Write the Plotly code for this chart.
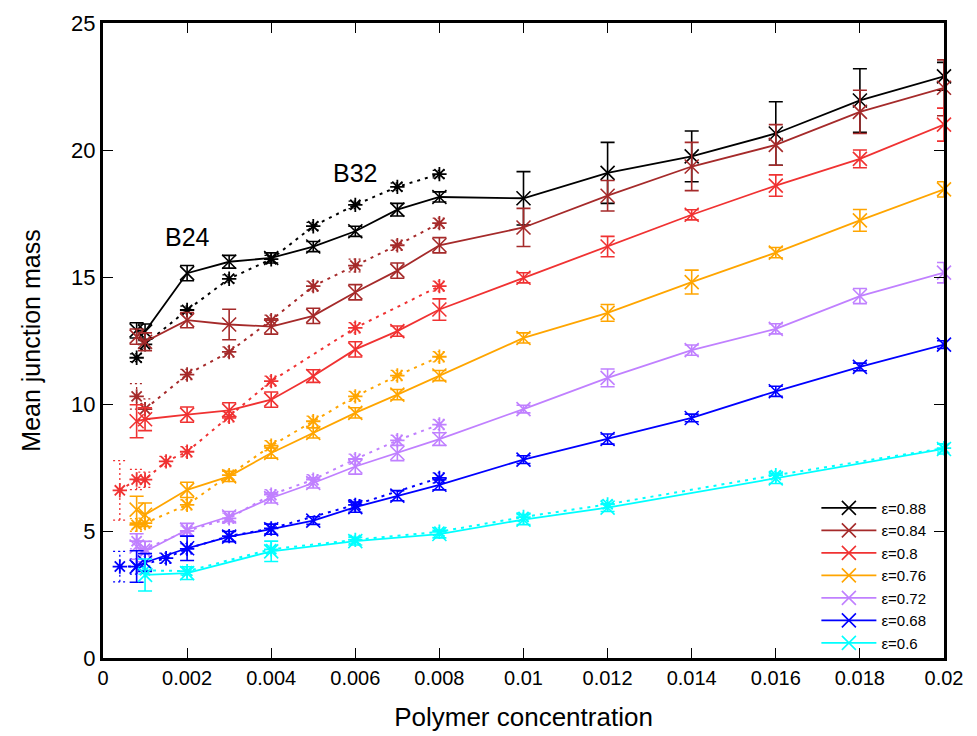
import plotly.graph_objects as go

# ---------------- data ----------------
x_solid = [0.0008, 0.001, 0.002, 0.003, 0.004, 0.005, 0.006, 0.007, 0.008,
           0.01, 0.012, 0.014, 0.016, 0.018, 0.02]

y_088 = [12.9, 12.85, 15.15, 15.6, 15.75, 16.2, 16.8, 17.65, 18.15, 18.1, 19.1, 19.75, 20.65, 21.95, 22.9]
e_088 = [0.3, 0.3, 0.3, 0.25, 0.2, 0.2, 0.2, 0.25, 0.2, 1.05, 1.2, 1.0, 1.25, 1.25, 0.55]
y_084 = [12.65, 12.45, 13.3, 13.13, 13.05, 13.47, 14.4, 15.25, 16.25, 16.95, 18.2, 19.35, 20.2, 21.5, 22.45]
e_084 = [0.3, 0.35, 0.3, 0.6, 0.3, 0.3, 0.3, 0.3, 0.3, 0.75, 0.6, 0.95, 0.8, 0.85, 1.1]
y_080 = [9.32, 9.4, 9.58, 9.75, 10.17, 11.1, 12.15, 12.87, 13.72, 14.97, 16.2, 17.45, 18.6, 19.65, 21.0]
e_080 = [0.65, 0.45, 0.3, 0.3, 0.3, 0.25, 0.3, 0.2, 0.42, 0.2, 0.4, 0.2, 0.42, 0.35, 0.65]
y_076 = [5.84, 5.64, 6.62, 7.15, 8.07, 8.86, 9.65, 10.37, 11.12, 12.6, 13.59, 14.8, 15.96, 17.23, 18.45]
e_076 = [0.53, 0.46, 0.3, 0.2, 0.2, 0.2, 0.2, 0.2, 0.2, 0.2, 0.33, 0.47, 0.2, 0.43, 0.3]
y_072 = [4.39, 4.19, 5.05, 5.57, 6.3, 6.89, 7.54, 8.07, 8.62, 9.8, 11.03, 12.12, 12.96, 14.25, 15.17]
e_072 = [0.5, 0.4, 0.25, 0.2, 0.2, 0.2, 0.3, 0.3, 0.25, 0.15, 0.35, 0.2, 0.2, 0.3, 0.4]
y_068 = [3.6, 3.76, 4.32, 4.78, 5.07, 5.41, 5.94, 6.39, 6.82, 7.81, 8.62, 9.45, 10.5, 11.46, 12.34]
e_068 = [0.62, 0.35, 0.48, 0.2, 0.2, 0.15, 0.2, 0.2, 0.2, 0.15, 0.2, 0.15, 0.2, 0.15, 0.15]

x_060 = [0.001, 0.002, 0.004, 0.006, 0.008, 0.01, 0.012, 0.016, 0.02]
y_060 = [3.27, 3.34, 4.2, 4.6, 4.88, 5.45, 5.92, 7.07, 8.23]
e_060 = [0.63, 0.25, 0.4, 0.15, 0.15, 0.2, 0.15, 0.2, 0.2]

# dotted (second system) series
xd_088 = [0.0008, 0.001, 0.002, 0.003, 0.004, 0.005, 0.006, 0.007, 0.008]
yd_088 = [11.82, 12.35, 13.7, 14.93, 15.7, 17.0, 17.84, 18.55, 19.05]
ed_088 = [0.15, 0.15, 0.15, 0.15, 0.15, 0.15, 0.15, 0.15, 0.15]
xd_084 = [0.0008, 0.001, 0.002, 0.003, 0.004, 0.005, 0.006, 0.007, 0.008]
yd_084 = [10.3, 9.8, 11.16, 12.05, 13.3, 14.64, 15.45, 16.25, 17.12]
ed_084 = [0.5, 0.4, 0.2, 0.2, 0.2, 0.2, 0.25, 0.2, 0.2]
xd_080 = [0.0004, 0.0008, 0.001, 0.0015, 0.002, 0.003, 0.004, 0.006, 0.008]
yd_080 = [6.6, 7.03, 7.02, 7.74, 8.12, 9.5, 10.9, 13.0, 14.64]
ed_080 = [1.17, 0.4, 0.3, 0.2, 0.2, 0.2, 0.2, 0.2, 0.2]
xd_076 = [0.0008, 0.001, 0.002, 0.003, 0.004, 0.005, 0.006, 0.007, 0.008]
yd_076 = [5.24, 5.31, 6.03, 7.2, 8.36, 9.32, 10.3, 11.12, 11.86]
ed_076 = [0.25, 0.2, 0.2, 0.2, 0.2, 0.2, 0.2, 0.2, 0.2]
xd_072 = [0.0008, 0.001, 0.002, 0.003, 0.004, 0.005, 0.006, 0.007, 0.008]
yd_072 = [4.6, 4.3, 5.0, 5.5, 6.43, 7.02, 7.83, 8.57, 9.19]
ed_072 = [0.3, 0.3, 0.2, 0.2, 0.2, 0.2, 0.2, 0.2, 0.2]
xd_068 = [0.0004, 0.0008, 0.0015, 0.002, 0.003, 0.004, 0.006, 0.008]
yd_068 = [3.6, 3.6, 3.93, 4.3, 4.8, 5.1, 6.03, 7.09]
ed_068 = [0.6, 0.3, 0.2, 0.2, 0.2, 0.2, 0.2, 0.2]
xd_060 = [0.001, 0.002, 0.004, 0.006, 0.008, 0.01, 0.012, 0.016, 0.02]
yd_060 = [3.45, 3.42, 4.28, 4.65, 4.97, 5.55, 6.05, 7.2, 8.26]
ed_060 = [0.15, 0.15, 0.15, 0.15, 0.15, 0.15, 0.15, 0.15, 0.15]

labels = ["ε=0.88", "ε=0.84", "ε=0.8", "ε=0.76", "ε=0.72", "ε=0.68", "ε=0.6"]
colors = ["#000000", "#a52a2a", "#f03232", "#ffa500", "#c080ff", "#0000ff", "#00ffff"]

x_ticks = [0, 0.002, 0.004, 0.006, 0.008, 0.01, 0.012, 0.014, 0.016, 0.018, 0.02]
x_ticktext = ["0", "0.002", "0.004", "0.006", "0.008", "0.01", "0.012", "0.014", "0.016", "0.018", "0.02"]
y_ticks = [0, 5, 10, 15, 20, 25]

solid = [(x_solid, y_088, e_088), (x_solid, y_084, e_084), (x_solid, y_080, e_080),
         (x_solid, y_076, e_076), (x_solid, y_072, e_072), (x_solid, y_068, e_068),
         (x_060, y_060, e_060)]
dotted = [(xd_088, yd_088, ed_088), (xd_084, yd_084, ed_084), (xd_080, yd_080, ed_080),
          (xd_076, yd_076, ed_076), (xd_072, yd_072, ed_072), (xd_068, yd_068, ed_068),
          (xd_060, yd_060, ed_060)]

CAP = 0.00016  # half width of dashed error-bar caps (x units)

fig = go.Figure()

# dotted series (with dashed error bars)
for (xs, ys, es), c in zip(dotted, colors):
    ex, ey = [], []
    for x, y, e in zip(xs, ys, es):
        ex += [x, x, None, x - CAP, x + CAP, None, x - CAP, x + CAP, None]
        ey += [y - e, y + e, None, y - e, y - e, None, y + e, y + e, None]
    fig.add_trace(go.Scatter(x=ex, y=ey, mode="lines", showlegend=False,
                             line=dict(color=c, width=1.3, dash="2px,3px"),
                             hoverinfo="skip", cliponaxis=False))
    fig.add_trace(go.Scatter(x=xs, y=ys, mode="lines+markers", showlegend=False,
                             line=dict(color=c, width=2, dash="3px,5px"),
                             marker=dict(symbol="asterisk-open", size=12,
                                         line=dict(color=c, width=1.8)),
                             cliponaxis=False))

# solid series with error bars
for (xs, ys, es), c, lab in zip(solid, colors, labels):
    fig.add_trace(go.Scatter(x=xs, y=ys, mode="lines+markers", name=lab,
                             line=dict(color=c, width=1.8),
                             marker=dict(symbol="x-thin-open", size=14,
                                         line=dict(color=c, width=1.6)),
                             error_y=dict(type="data", array=es, visible=True,
                                          color=c, thickness=1.6, width=7),
                             cliponaxis=False))

fig.add_annotation(x=0.002, y=16.58, text="B24", showarrow=False,
                   font=dict(size=25, color="black", family="Liberation Sans"))
fig.add_annotation(x=0.006, y=19.08, text="B32", showarrow=False,
                   font=dict(size=25, color="black", family="Liberation Sans"))

fig.update_layout(
    width=977, height=736,
    margin=dict(l=103, r=33, t=23, b=78),
    paper_bgcolor="white", plot_bgcolor="white",
    font=dict(family="Liberation Sans", size=20, color="black"),
    legend=dict(x=0.985, y=0.262, xanchor="right", yanchor="top",
                bgcolor="rgba(0,0,0,0)", font=dict(size=15),
                tracegroupgap=0, itemwidth=55),
    showlegend=True,
)
fig.update_xaxes(range=[0, 0.02], tickvals=x_ticks, ticktext=x_ticktext,
                 automargin=False,
                 showline=True, linecolor="black", linewidth=3, mirror="allticks",
                 ticks="inside", ticklen=10, tickwidth=1.3, tickcolor="black",
                 showgrid=False, zeroline=False,
                 tickfont=dict(size=20),
                 title=dict(text="Polymer concentration", font=dict(size=26), standoff=20))
fig.update_yaxes(range=[0, 25], tickvals=y_ticks,
                 automargin=False,
                 showline=True, linecolor="black", linewidth=3, mirror="allticks",
                 ticks="inside", ticklen=10, tickwidth=1.3, tickcolor="black",
                 showgrid=False, zeroline=False,
                 tickfont=dict(size=22),
                 title=dict(text="Mean junction mass", font=dict(size=25), standoff=24))

fig.write_html("out.html")
